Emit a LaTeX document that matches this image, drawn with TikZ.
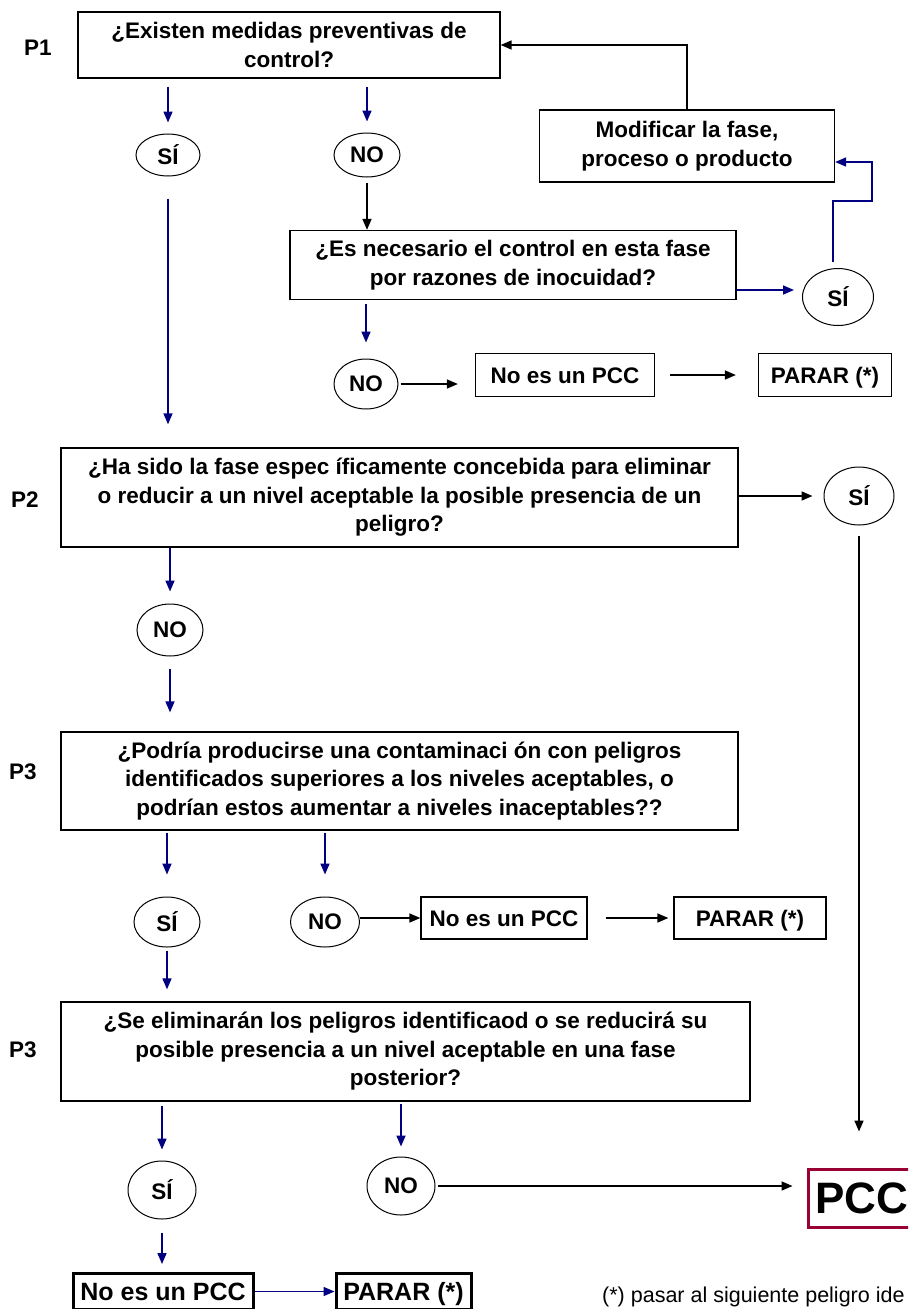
\documentclass[tikz,border=0pt]{standalone}
\usepackage{fontspec}
\setmainfont{Liberation Sans}
\usetikzlibrary{arrows.meta,shapes.geometric}
\definecolor{navyline}{RGB}{0,0,128}
\definecolor{pccred}{RGB}{153,0,51}

\begin{document}
\begin{tikzpicture}[x=1pt, y=-1pt,
  font=\bfseries\fontsize{22.5}{28.5}\selectfont,
  question/.style={draw, line width=1.3pt, align=center, inner sep=2pt},
  answer/.style={draw, ellipse, line width=1pt, inner sep=0pt},
  endbox/.style={draw, line width=1.3pt, inner sep=2pt, text height=16pt, text depth=0pt},
  bigbox/.style={draw, line width=3pt, inner sep=2pt, text height=18pt, text depth=0pt, font=\bfseries\fontsize{25}{25}\selectfont},
  bluearrow/.style={-{Triangle[length=11pt,width=9pt]}, line width=1.6pt, navyline},
  blackarrow/.style={-{Triangle[length=11pt,width=9pt]}, line width=1.6pt}]
  \useasboundingbox (0,0) rectangle (908,1309);
  \clip (0,0) rectangle (908,1309);

  % Question labels
  \node (lp1) at (38,48) {P1};
  \node (lp2) at (25,500) {P2};
  \node (lp3) at (23,772) {P3};
  \node (lp4) at (23,1050) {P3};

  % P1
  \node[question, minimum width=422pt, minimum height=66pt] (q1) at (289,45) {¿Existen medidas preventivas de\\control?};
  \node[answer, minimum width=64pt, minimum height=42pt] (yes1) at (168,155) {SÍ};
  \node[answer, minimum width=66pt, minimum height=44pt] (no1) at (367,155) {NO};
  \node[question, minimum width=295pt, minimum height=72pt] (mod) at (687,146) {Modificar la fase,\\proceso o producto};
  \node[question, minimum width=446pt, minimum height=69pt] (q2) at (513,265) {¿Es necesario el control en esta fase\\por razones de inocuidad?};
  \node[answer, minimum width=71pt, minimum height=57pt] (yes2) at (838,297) {SÍ};
  \node[answer, minimum width=64pt, minimum height=50pt] (no2) at (366,384) {NO};
  \node[endbox, minimum width=179pt, minimum height=43pt] (np1) at (565,375) {No es un PCC};
  \node[endbox, minimum width=133pt, minimum height=43pt] (stop1) at (825,375) {PARAR (*)};

  % P2
  \node[question, minimum width=677pt, minimum height=99pt] (q3) at (399.5,497.5) {¿Ha sido la fase espec íficamente concebida para eliminar\\o reducir a un nivel aceptable la posible presencia de un\\peligro?};
  \node[answer, minimum width=70pt, minimum height=58pt] (yes3) at (859,496) {SÍ};
  \node[answer, minimum width=66pt, minimum height=52pt] (no3) at (170,630) {NO};

  % P3
  \node[question, minimum width=677pt, minimum height=98pt] (q4) at (399.5,781) {¿Podría producirse una contaminaci ón con peligros\\identificados superiores a los niveles aceptables, o\\podrían estos aumentar a niveles inaceptables??};
  \node[answer, minimum width=66pt, minimum height=50pt] (yes4) at (167,922) {SÍ};
  \node[answer, minimum width=69pt, minimum height=50pt] (no4) at (325,922) {NO};
  \node[endbox, minimum width=166pt, minimum height=42pt] (np2) at (504,918) {No es un PCC};
  \node[endbox, minimum width=152pt, minimum height=42pt] (stop2) at (750,918) {PARAR (*)};

  % second P3
  \node[question, minimum width=689pt, minimum height=99pt] (q5) at (405.5,1051.5) {¿Se eliminarán los peligros identificaod o se reducirá su\\posible presencia a un nivel aceptable en una fase\\posterior?};
  \node[answer, minimum width=68pt, minimum height=58pt] (yes5) at (162,1190) {SÍ};
  \node[answer, minimum width=68pt, minimum height=58pt] (no5) at (401,1186) {NO};
  \node[draw=pccred, line width=3pt, minimum width=107pt, minimum height=58pt, inner sep=0pt,
        font=\bfseries\fontsize{44}{44}\selectfont] (pcc) at (861.5,1198) {PCC};
  \node[bigbox, minimum width=180pt, minimum height=36pt] (np3) at (163,1291.5) {No es un PCC};
  \node[bigbox, minimum width=135pt, minimum height=36pt] (stop3) at (403.5,1291.5) {PARAR (*)};
  \node[anchor=west, inner sep=0pt, font=\fontsize{21.5}{26}\selectfont] (note) at (602,1297) {(*) pasar al siguiente peligro ide};

  % Connectors of P1
  \draw[bluearrow, shorten <=8pt, shorten >=11pt] (q1.south -| yes1) -- (yes1.north);
  \draw[bluearrow, shorten <=8pt, shorten >=11pt] (q1.south -| no1) -- (no1.north);
  \draw[blackarrow, shorten <=5pt] (no1.south) -- (no1.south |- q2.north);
  \draw[blackarrow] (mod.north) |- (q1.east);
  \draw[bluearrow, shorten >=8pt] ([yshift=7pt]yes2.west -| q2.east) -- ([yshift=7pt]yes2.west);
  \coordinate (loop) at (872,201);
  \draw[bluearrow, shorten <=6pt] ([xshift=-5pt]yes2.north) |- (loop) |- ([yshift=-16pt]mod.east);
  \draw[bluearrow, shorten <=4pt, shorten >=16pt] (q2.south -| no2) -- (no2.north);
  \draw[blackarrow, shorten <=2pt, shorten >=17pt] (no2.east) -- (no2.east -| np1.west);
  \draw[blackarrow, shorten <=15pt, shorten >=22pt] (np1.east) -- (stop1.west);

  % Connectors of P2
  \draw[bluearrow, shorten <=22pt, shorten >=23pt] (yes1.south) -- (yes1.south |- q3.north);
  \draw[blackarrow, shorten >=11pt] (yes3.west -| q3.east) -- (yes3.west);
  \draw[blackarrow, shorten <=10pt, shorten >=36pt] (yes3.south) -- (yes3.south |- pcc.north);
  \draw[bluearrow, shorten >=12pt] (q3.south -| no3) -- (no3.north);
  \draw[bluearrow, shorten <=12pt, shorten >=19pt] (no3.south) -- (no3.south |- q4.north);

  % Connectors of P3
  \draw[bluearrow, shorten <=2pt, shorten >=22pt] (q4.south -| yes4) -- (yes4.north);
  \draw[bluearrow, shorten <=2pt, shorten >=22pt] (q4.south -| no4) -- (no4.north);
  \draw[blackarrow] (np2.west -| no4.east) -- (np2.west);
  \draw[blackarrow, shorten <=18pt, shorten >=5pt] (np2.east) -- (stop2.west);
  \draw[bluearrow, shorten <=3pt, shorten >=12pt] (yes4.south) -- (yes4.south |- q5.north);

  % Connectors of the last question
  \draw[bluearrow, shorten <=4pt, shorten >=11pt] (q5.south -| yes5) -- (yes5.north);
  \draw[bluearrow, shorten <=2pt, shorten >=10pt] (q5.south -| no5) -- (no5.north);
  \draw[blackarrow, shorten <=2pt, shorten >=14pt] (no5.east) -- (no5.east -| pcc.west);
  \draw[bluearrow, shorten <=13pt, shorten >=8pt] (yes5.south) -- (yes5.south |- np3.north);
  \draw[bluearrow] (np3.east) -- (stop3.west);
\end{tikzpicture}
\end{document}
